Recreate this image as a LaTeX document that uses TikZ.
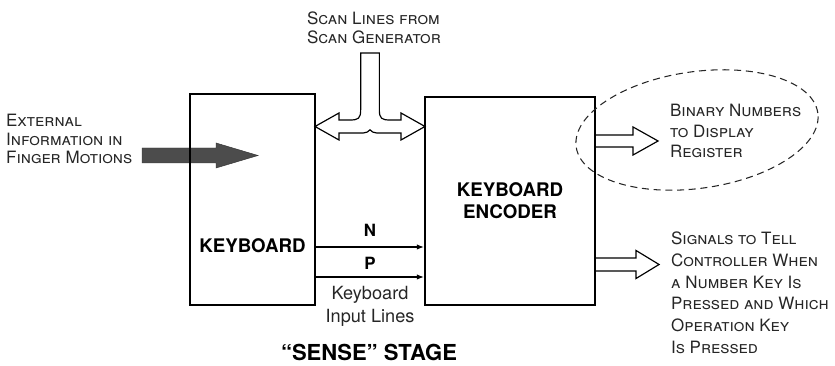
\documentclass[tikz,border=0pt]{standalone}
\usepackage{fontspec}
\setmainfont{TeX Gyre Heros}
\usetikzlibrary{calc, arrows.meta, positioning}

\begin{document}
\begin{tikzpicture}[
	>=Stealth,
	font=\large,
	% Styles for the blocks
	block/.style={draw=black, line width=1.8pt, inner sep=0pt},
	blocktext/.style={font=\fontsize{16}{19}\selectfont\bfseries, align=center},
	% Styles for the labels
	caption/.style={font=\fontsize{14.5}{15.6}\selectfont\scshape, align=left, text=black!85},
	plainlabel/.style={font=\fontsize{15.5}{19.5}\selectfont, align=center, text=black!85},
	linelabel/.style={font=\Large\bfseries, inner sep=1pt},
	% Styles for the connectors
	signal/.style={->, line width=0.9pt, >={Latex[length=6pt,width=4.5pt]}},
	busarrow/.style={draw=black, line width=1pt, fill=white, line join=miter},
	outarrow/.style={draw=black, line width=1pt, line join=miter},
	fingerarrow/.style={fill=black!70, draw=black!80, line width=0.4pt},
	region/.style={draw=black!85, line width=0.9pt, dash pattern=on 6pt off 4pt}
	]
	
	\useasboundingbox (0,0) rectangle (25.05,10.98);
	
	% ==========================================
	% INPUT: FINGER MOTIONS
	% ==========================================
	\node[caption, anchor=west] (ext) at (0.06,6.81) {External\\Information in\\Finger Motions};
	\coordinate (fingerstart) at (4.26,6.315);
	\draw[fingerarrow] (fingerstart) ++(0,0.225) -- ++(2.22,0) -- ++(0,0.15) -- ++(1.26,-0.375)
		-- ++(-1.26,-0.375) -- ++(0,0.15) -- ++(-2.22,0) -- cycle;
	
	% ==========================================
	% BLOCKS
	% ==========================================
	\node[block, minimum width=3.75cm, minimum height=6.33cm] (kbd) at (7.575,4.995) {};
	\node[blocktext] (kbdtext) at (7.575,3.6) {KEYBOARD};
	
	\node[block, blocktext, minimum width=5.1cm, minimum height=6.24cm] (enc) at (15.3,4.95) {KEYBOARD\\ENCODER};
	
	% ==========================================
	% KEYBOARD INPUT LINES
	% ==========================================
	\coordinate (nline) at ($(kbd.east)+(0,-1.425)$);
	\coordinate (pline) at ($(kbd.east)+(0,-2.325)$);
	\draw[signal] (nline) -- (nline -| enc.west) node[midway, yshift=0.51cm, linelabel] (nlabel) {N};
	\draw[signal] (pline) -- (pline -| enc.west) node[midway, yshift=0.42cm, linelabel] (plabel) {P};
	\node[plainlabel, yshift=-0.88cm] (inputlbl) at (pline -| nlabel) {Keyboard\\Input Lines};
	
	% ==========================================
	% SCAN LINES (T-SHAPED BUS)
	% ==========================================
	\node[caption, font=\fontsize{14.5}{16.2}\selectfont\scshape] (scan) at (11.22,10.16) {Scan Lines from\\Scan Generator};
	\coordinate (scanL) at ($(kbd.east)+(0,2.19)$);
	\coordinate (scanR) at (scanL -| enc.west);
	\coordinate (stem) at ($(scanL)!0.5!(scanR)$);
	\draw[busarrow, shift={(stem)}] (-0.28,2.205) -- (-0.28,0.5)
		.. controls (-0.28,0.24) and (-0.35,0.195) .. (-0.6,0.195) -- (-0.93,0.195) -- (-0.93,0.405)
		-- (-1.65,0) -- (-0.93,-0.405) -- (-0.93,-0.195) -- (-0.2,-0.195)
		.. controls (-0.1,-0.195) and (-0.05,-0.15) .. (0,-0.1)
		.. controls (0.05,-0.15) and (0.1,-0.195) .. (0.2,-0.195) -- (0.93,-0.195) -- (0.93,-0.405)
		-- (1.65,0) -- (0.93,0.405) -- (0.93,0.195) -- (0.6,0.195)
		.. controls (0.35,0.195) and (0.28,0.24) .. (0.28,0.5) -- (0.28,2.205) -- cycle;
	
	% ==========================================
	% OUTPUTS
	% ==========================================
	% Binary numbers
	\coordinate (binout) at ($(enc.east)+(0,1.8)$);
	\draw[outarrow] ($(binout)+(0,0.18)$) -- ++(1.11,0) -- ++(0,0.24) -- ++(0.75,-0.42)
		-- ++(-0.75,-0.42) -- ++(0,0.24) -- ++(-1.11,0);
	\node[caption, anchor=west, font=\fontsize{14.5}{17.5}\selectfont\scshape] (bin) at (19.98,7.05) {Binary Numbers\\to Display\\Register};
	\draw[region, rotate around={8:(20.91,7.08)}] (20.91,7.08) ellipse [x radius=3.66, y radius=1.75];
	
	% Controller signals
	\coordinate (sigout) at ($(enc.east)+(0,-1.905)$);
	\draw[outarrow] ($(sigout)+(0,0.195)$) -- ++(1.2,0) -- ++(0,0.225) -- ++(0.69,-0.42)
		-- ++(-0.69,-0.42) -- ++(0,0.225) -- ++(-1.2,0);
	\node[caption, anchor=west, font=\fontsize{14.5}{18.5}\selectfont\scshape] (sig) at (20.01,2.2) {Signals to Tell\\Controller When\\a Number Key Is\\Pressed and Which\\Operation Key\\Is Pressed};
	
	% Stage title
	\node[font=\fontsize{18.8}{22}\selectfont\bfseries, inner sep=0pt] (stage) at (11.07,0.42) {``SENSE'' STAGE};
	
\end{tikzpicture}
\end{document}
